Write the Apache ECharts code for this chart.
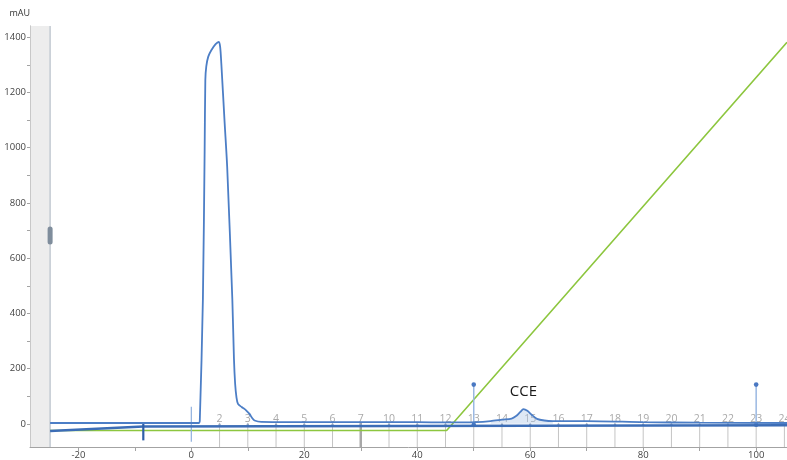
<!DOCTYPE html>
<html>
<head>
<meta charset="utf-8">
<script src="https://cdn.jsdelivr.net/npm/echarts@6/dist/echarts.min.js"></script>
<style>
  html, body { margin: 0; padding: 0; background: #fff; }
  #chart { width: 787px; height: 460px; }
</style>
</head>
<body>
<div id="chart"></div>
<script>
// Axis ranges (retention volume, absorbance)
const xMin = -28.56, xMax = 105.46;
const yMin = -84, yMax = 1441;
const xTickValues = [-20, -10, 0, 10, 20, 30, 40, 50, 60, 70, 80, 90, 100];
const xLabelValues = [-20, 0, 20, 40, 60, 80, 100];
const yTickValues = [0, 100, 200, 300, 400, 500, 600, 700, 800, 900, 1000, 1100, 1200, 1300, 1400];
const yLabelValues = [0, 200, 400, 600, 800, 1000, 1200, 1400];

// UV absorbance trace [volume, mAU]
const uvPoints = [
  [-25, 3], [1.3, 3], [1.5, 10], [2.05, 451], [2.36, 992], [2.48, 1245], [2.65, 1295],
  [3.0, 1330], [3.54, 1353], [4.3, 1375], [4.84, 1383], [5.1, 1366], [5.31, 1306],
  [5.9, 1090], [6.35, 930], [7.26, 451], [7.55, 235], [7.76, 144], [8.0, 95], [8.26, 72],
  [8.9, 61], [9.4, 54], [9.74, 48], [10.3, 36], [10.8, 20], [11.2, 12], [12.4, 7],
  [20, 6], [30, 6], [40, 6], [45, 5], [48, 5], [50.5, 6], [53, 10], [55, 15], [56.7, 19],
  [57.5, 28], [58.2, 42], [58.8, 53], [59.5, 47], [60.3, 32], [61.2, 18], [62.5, 12],
  [64, 10], [70, 10], [80, 6], [90, 4], [105.46, 3]
];
// Second detector trace
const secondPoints = [[-25, -26], [-8.5, -10], [-8.5, -5], [105.46, -5]];
// Gradient (%B) drawn on the absorbance scale
const gradientPoints = [[-25, -24], [45.2, -24], [105.46, 1382]];

// Integrated peak window and its name
const cceWindow = [51, 64];
const cceName = 'CCE';
const ccePeak = [58.8, 53];

// Fraction marks
const fractionPositions = [5, 10, 15, 20, 25, 30, 35, 40, 45, 50, 55, 60, 65, 70, 75, 80, 85, 90, 95, 100, 105];
const fractionLabels = ['2', '3', '4', '5', '6', '7', '10', '11', '12', '13', '14', '15', '16', '17', '18', '19', '20', '21', '22', '23', '24'];

// Event marks [volume, height]
const eventMarks = [[50, 142], [100, 142]];
const injectionMark = [0, 62, -65];
const valveMark = [-8.5, 2, -60];

// Left gray panel edge
const panelEdge = -25;
const panelHandleY = 682;

const chart = echarts.init(document.getElementById('chart'));

const font = 'Open Sans';

const option = {
  animation: false,
  backgroundColor: '#ffffff',
  grid: { left: 30, right: 0, top: 26, bottom: 12, containLabel: false },
  xAxis: {
    type: 'value', min: xMin, max: xMax,
    axisLine: { show: true, onZero: false, lineStyle: { color: '#a3a3a3', width: 1 } },
    axisTick: { show: true, customValues: xTickValues, length: 4, lineStyle: { color: '#a3a3a3' } },
    axisLabel: { customValues: xLabelValues, color: '#444', fontSize: 9.5, fontFamily: font, margin: 3,
                 formatter: v => String(v) },
    splitLine: { show: false }
  },
  yAxis: {
    type: 'value', min: yMin, max: yMax,
    name: 'mAU', nameLocation: 'end', nameGap: 8,
    nameTextStyle: { color: '#333', fontSize: 9, fontFamily: font, align: 'right', padding: [0, 0, 0, 0] },
    axisLine: { show: true, onZero: false, lineStyle: { color: '#a3a3a3', width: 1 } },
    axisTick: { show: true, customValues: yTickValues, length: 3, lineStyle: { color: '#a3a3a3' } },
    axisLabel: { customValues: yLabelValues, color: '#444', fontSize: 9.5, fontFamily: font, margin: 4,
                 formatter: v => String(v) },
    splitLine: { show: false }
  },
  series: [
    {
      // gray panel on the left
      type: 'custom', z: 1, silent: true,
      data: [[panelEdge, panelHandleY]],
      renderItem: function (params, api) {
        const tl = api.coord([xMin, yMax]);
        const br = api.coord([api.value(0), yMin]);
        const h = api.coord([api.value(0), api.value(1)]);
        return {
          type: 'group',
          children: [
            { type: 'rect', shape: { x: tl[0] + 0.5, y: tl[1], width: br[0] - tl[0] - 0.5, height: br[1] - tl[1] },
              style: { fill: '#ededed' } },
            { type: 'line', shape: { x1: br[0], y1: tl[1], x2: br[0], y2: br[1] },
              style: { stroke: '#c3cad2', lineWidth: 1.5 } },
            { type: 'rect', shape: { x: h[0] - 2.5, y: h[1] - 9, width: 5, height: 18, r: 2.5 },
              style: { fill: '#7f8d9c' } }
          ]
        };
      }
    },
    {
      // fraction marks
      type: 'custom', z: 2, silent: true,
      data: fractionPositions.map((p, i) => [p, 0, i]),
      renderItem: function (params, api) {
        const x = api.value(0);
        const idx = api.value(2);
        const top = api.coord([x, 0]);
        const bottom = api.coord([x, yMin]);
        const thick = fractionLabels[idx] === '7';
        return {
          type: 'group',
          children: [
            { type: 'line', shape: { x1: top[0], y1: top[1] - 1, x2: bottom[0], y2: bottom[1] },
              style: { stroke: thick ? '#a8a8a8' : '#c4c4c4', lineWidth: thick ? 2.5 : 1 } },
            { type: 'circle', shape: { cx: top[0], cy: top[1] + 1, r: 1.2 }, style: { fill: '#94a6c0' } },
            { type: 'text', x: top[0], y: top[1] - 5,
              style: { text: fractionLabels[idx], fill: '#a9a9a9', fontSize: 10.5, fontFamily: font,
                       align: 'center', verticalAlign: 'middle' } }
          ]
        };
      }
    },
    {
      // gradient
      type: 'line', z: 3, data: gradientPoints, showSymbol: false, silent: true,
      lineStyle: { color: '#8dc63f', width: 1.6 }
    },
    {
      // injection mark
      type: 'custom', z: 4, silent: true,
      data: [injectionMark],
      renderItem: function (params, api) {
        const a = api.coord([api.value(0), api.value(1)]);
        const b = api.coord([api.value(0), api.value(2)]);
        return { type: 'line', shape: { x1: a[0], y1: a[1], x2: b[0], y2: b[1] },
                 style: { stroke: '#8fb0de', lineWidth: 1.2 } };
      }
    },
    {
      // event marks
      type: 'custom', z: 4, silent: true,
      data: eventMarks,
      renderItem: function (params, api) {
        const a = api.coord([api.value(0), 0]);
        const b = api.coord([api.value(0), api.value(1)]);
        return {
          type: 'group',
          children: [
            { type: 'line', shape: { x1: a[0], y1: a[1], x2: b[0], y2: b[1] },
              style: { stroke: '#9ab8e2', lineWidth: 1.5 } },
            { type: 'circle', shape: { cx: b[0], cy: b[1], r: 2.3 }, style: { fill: '#4a78c2' } },
            { type: 'circle', shape: { cx: a[0], cy: a[1] + 1, r: 2.3 }, style: { fill: '#4a78c2' } }
          ]
        };
      }
    },
    {
      // second detector trace
      type: 'line', z: 5, data: secondPoints, showSymbol: false, silent: true,
      lineStyle: { color: '#3c6db6', width: 2.6 }
    },
    {
      // valve switch mark
      type: 'custom', z: 6, silent: true,
      data: [valveMark],
      renderItem: function (params, api) {
        const a = api.coord([api.value(0), api.value(1)]);
        const b = api.coord([api.value(0), api.value(2)]);
        return { type: 'line', shape: { x1: a[0], y1: a[1], x2: b[0], y2: b[1] },
                 style: { stroke: '#2f5fa8', lineWidth: 2.2 } };
      }
    },
    {
      // integrated peak area
      type: 'line', z: 5, silent: true, showSymbol: false,
      data: uvPoints.filter(p => p[0] >= cceWindow[0] && p[0] <= cceWindow[1]),
      smooth: 0.25,
      lineStyle: { width: 0 },
      areaStyle: { color: 'rgba(170,195,228,0.55)' }
    },
    {
      // UV trace
      type: 'line', z: 7, data: uvPoints, showSymbol: false, silent: true,
      smooth: 0.25,
      lineStyle: { color: '#4c7ec6', width: 1.8 },
      markPoint: {
        symbol: 'circle', symbolSize: 0,
        data: [{ coord: ccePeak, value: cceName }],
        label: { show: true, formatter: cceName, color: '#1a1a1a', fontSize: 15, fontFamily: font,
                 offset: [0, -17], position: 'inside' }
      }
    }
  ]
};

chart.setOption(option);
</script>
</body>
</html>
